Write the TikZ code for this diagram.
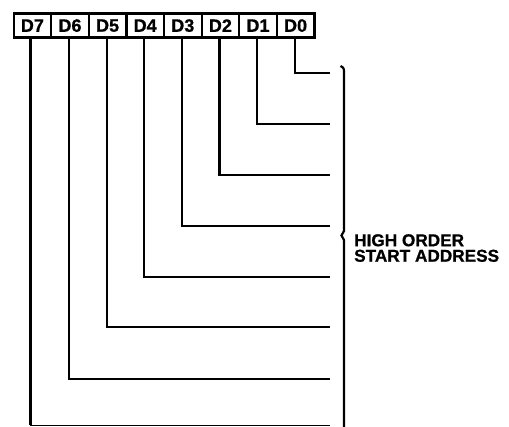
\documentclass[tikz,border=0pt]{standalone}
\usepackage{fontspec}
\setmainfont{Liberation Sans}
\newfontfamily\heavyfont{Liberation Sans Bold}[FakeBold=0.8]
\begin{document}
\begin{tikzpicture}[x=1pt,y=-1pt]
\tikzset{
  bitbox/.style={draw, line width=2.2pt, minimum width=37.6pt, minimum height=24pt, inner sep=0pt,
    anchor=north west, font=\heavyfont\fontsize{18}{18}\selectfont},
  wire/.style={line width=2.2pt},
  thinwire/.style={line width=1.3pt},
  brace/.style={line width=2.2pt},
  label/.style={align=left, anchor=north west, inner sep=0pt,
    font=\heavyfont\fontsize{17.2}{15.5}\selectfont}
}
\useasboundingbox (0,0) rectangle (509,427);
\foreach \i/\k in {0/7,1/6,2/5,3/4,4/3,5/2,6/1,7/0} {
  \node[bitbox] (b\k) at ({12.5+37.6*\i},12.5) {D\k};
}
\foreach \k/\y in {0/73,1/124,2/175,3/226,4/277,5/327,6/379} {
  \coordinate (e\k) at (330,\y);
  \draw[wire] ([xshift=-1pt]b\k.south) |- (e\k);
}
\coordinate (e7) at (330,425.5);
\draw[wire] ([xshift=-2pt]b7.south) -- ([xshift=-2pt]b7.south |- e7);
\draw[thinwire] ([xshift=-2pt]b7.south |- e7) -- (e7);
\draw[brace] (340.5,66) .. controls (344,68) .. (344,74) -- (344,231) -- (341.5,235.5) -- (344,240) -- (344,427);
\node[label] (txt) at (354,234) {HIGH ORDER\\START ADDRESS};
\end{tikzpicture}
\end{document}
